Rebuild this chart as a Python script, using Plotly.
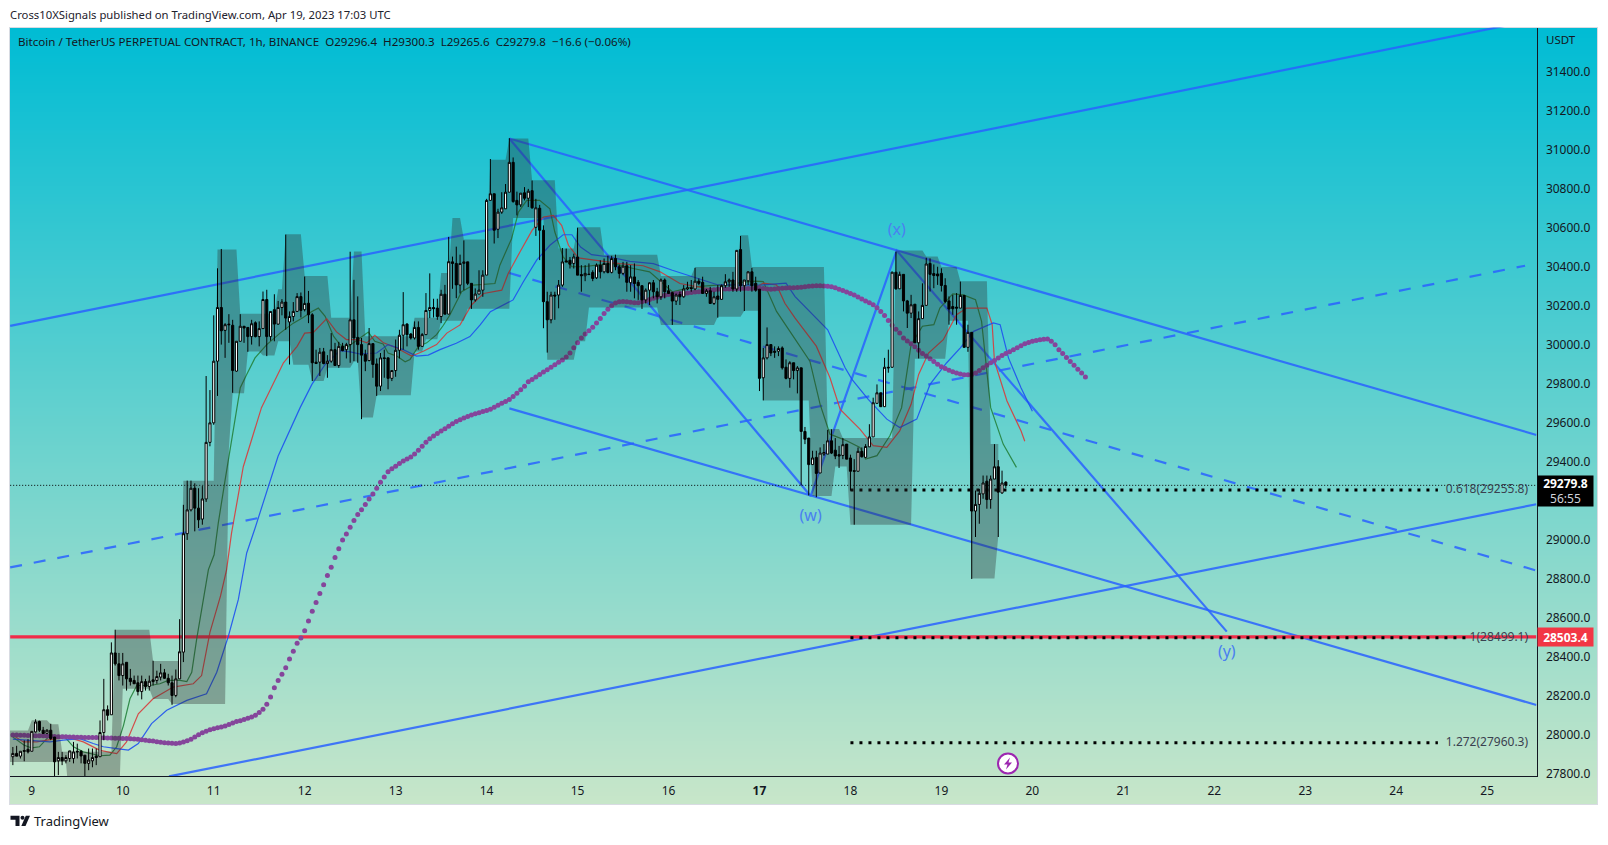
import pandas as pd
import plotly.graph_objects as go

W, H = 1608, 845
BASE = pd.Timestamp("2023-04-09")

candle_hours = list(range(-5, 258))
opens = [27889,27906,27892,27921,27927,27917,28016,28070,28025,28009,28025,27990,27868,27885,27868,27880,27880,27917,27917,27897,27855,27868,27892,27889,28013,28130,28104,28421,28365,28305,28373,28291,28280,28268,28223,28274,28249,28283,28280,28297,28319,28291,28268,28203,28288,28425,29032,29154,29265,29163,29107,
29210,29500,29600,29916,30191,30074,30106,30100,29865,30018,30095,30089,30042,30113,30042,30083,30232,30042,30180,30106,30191,30219,30117,30145,30171,30247,30180,30213,30154,29911,29911,29964,29904,29916,29975,29894,29992,29975,30001,30128,30038,30001,29950,29919,30006,29902,29788,29933,29933,29828,29868,29972,30049,30106,30055,30035,30089,29992,30052,30176,30191,30188,30145,30259,30157,
30425,30417,30306,30417,30425,30315,30230,30260,30280,30357,30740,30774,30592,30680,30697,30782,30935,30740,30717,30779,30751,30790,30602,30700,30587,30221,30128,30255,30255,30306,30430,30433,30417,30450,30360,30354,30362,30371,30343,30408,30374,30417,30371,30442,30400,30366,30405,30318,30348,30320,30303,30230,30280,30318,30272,30246,30332,30277,30267,30224,30258,30246,30286,30292,30286,30326,30320,30263,30277,30212,30250,30233,30303,30323,30332,30286,30488,30303,30328,30374,30315,
30285,29831,29933,30001,29967,29967,29984,29885,29828,29908,29868,29882,29556,29522,29386,29423,29343,29440,29440,29508,29460,29437,29433,29491,29420,29355,29352,29454,29423,29477,29528,29700,29754,29683,29885,29885,30372,30287,30361,30225,30162,30208,30010,30134,30202,30417,30365,30363,30366,30304,30225,30196,30193,30188,30253,29987,30064,29148,29182,29236,29301,29207,29312,29375,29241,29296.4]
highs = [27939,27945,27917,27973,27979,28019,28081,28074,28042,28030,28058,27990,27914,27914,27897,27919,27965,27956,27923,27897,27931,27931,27931,28075,28288,28152,28475,28540,28421,28421,28373,28339,28305,28305,28305,28288,28305,28381,28330,28365,28339,28314,28305,28336,28594,29180,29304,29304,29290,29265,29276,
29840,29768,30151,30392,30491,30111,30157,30128,30018,30157,30095,30089,30128,30120,30120,30273,30282,30171,30259,30225,30234,30565,30171,30219,30265,30268,30350,30276,30162,29975,29984,29984,29947,30060,30010,30015,30010,30010,30477,30333,30248,30035,29975,30086,30006,29930,29958,29975,29933,29868,30027,30077,30270,30111,30060,30120,30120,30060,30265,30366,30236,30236,30282,30307,30553,
30452,30503,30462,30535,30425,30315,30289,30382,30382,30748,30952,30774,30697,30782,30824,31059,30960,30785,30777,30808,30799,30842,30748,30717,30612,30272,30272,30272,30332,30496,30493,30450,30467,30600,30408,30408,30417,30382,30417,30433,30442,30456,30456,30462,30411,30425,30425,30408,30417,30332,30303,30289,30320,30332,30292,30340,30340,30306,30272,30263,30272,30306,30323,30332,30394,30340,30349,30286,30297,30272,30306,30309,30362,30340,30374,30484,30558,30332,30377,30394,30349,
30285,29984,30089,30001,29992,29992,29992,29925,29916,29908,29891,29882,29579,29522,29457,29457,29474,29491,29564,29567,29522,29482,29522,29491,29437,29414,29474,29474,29491,29593,29729,29797,29754,29933,29975,30375,30477,30375,30361,30230,30256,30208,30171,30315,30446,30443,30412,30400,30392,30341,30248,30256,30265,30324,30256,30103,30064,29253,29261,29330,29330,29330,29491,29409,29355,29300.3]
lows = [27846,27892,27880,27866,27906,27917,28013,28016,28008,28006,27974,27770,27795,27846,27855,27863,27855,27880,27855,27780,27820,27835,27846,27889,27974,28075,28104,28356,28280,28254,28228,28254,28263,28203,28183,28228,28228,28254,28263,28280,28288,28254,28155,28194,28288,28374,29000,29146,29044,29061,29078,
29195,29480,29590,29738,30001,29933,30010,29754,29862,30018,30010,29964,30001,30038,29992,30083,29942,30021,30018,30103,30151,30077,29899,30120,30168,30140,30171,30111,29814,29904,29840,29900,29831,29908,29894,29882,29967,29930,29908,29916,29908,29619,29865,29916,29831,29738,29763,29831,29772,29814,29836,29930,29975,29992,30027,30027,29975,29992,30052,30137,30140,30128,30111,30157,30157,
30287,30239,30263,30280,30306,30184,30221,30260,30246,30357,30740,30519,30547,30671,30697,30782,30728,30663,30706,30740,30706,30697,30558,30434,30085,29960,30110,30128,30187,30297,30425,30391,30391,30357,30272,30326,30360,30326,30337,30340,30366,30366,30366,30382,30340,30357,30272,30272,30238,30230,30184,30212,30204,30238,30212,30230,30238,30263,30102,30204,30204,30241,30280,30272,30280,30306,30263,30246,30212,30204,30139,30230,30292,30297,30272,30272,30272,30173,30306,30272,30272,
29763,29715,29925,29942,29933,29942,29873,29823,29780,29823,29751,29279,29491,29228,29386,29219,29343,29431,29440,29440,29414,29369,29414,29414,29253,29078,29352,29423,29423,29477,29528,29700,29681,29681,29857,29882,30282,30287,30171,30086,30137,30010,29930,30134,30202,30273,30290,30307,30273,30213,30103,30154,30103,30188,29987,29964,28800,29015,29083,29211,29160,29160,29312,29015,29236,29265.6]
closes = [27906,27892,27917,27917,27914,28019,28067,28025,28008,28025,27982,27863,27885,27868,27885,27919,27914,27914,27893,27855,27872,27885,27885,28013,28130,28101,28421,28365,28305,28365,28288,28274,28263,28223,28274,28249,28276,28274,28300,28319,28291,28268,28203,28288,28427,29032,29154,29265,29163,29103,29210,
29500,29600,29916,30191,30072,30103,30103,29868,30018,30095,30086,30042,30108,30042,30083,30232,30042,30171,30106,30191,30219,30137,30145,30171,30247,30176,30212,30154,29908,29904,29962,29904,29916,29975,29894,29992,29970,30001,30128,30035,30001,29947,29916,30006,29899,29788,29933,29930,29828,29868,29972,30049,30103,30052,30035,30089,29992,30052,30176,30191,30185,30145,30259,30157,30426,
30417,30307,30417,30425,30315,30230,30260,30280,30357,30740,30774,30587,30680,30702,30782,30935,30734,30717,30777,30751,30787,30702,30702,30587,30221,30128,30255,30250,30306,30425,30425,30413,30450,30357,30354,30366,30360,30340,30408,30374,30417,30371,30442,30400,30366,30403,30320,30348,30314,30303,30230,30280,30318,30272,30246,30332,30272,30263,30224,30255,30246,30286,30292,30289,30326,30315,30263,30277,30212,30246,30233,30303,30323,30332,30286,30484,30303,30332,30374,30303,30280,
29828,29933,30001,29958,29962,29981,29882,29828,29908,29868,29882,29556,29516,29386,29420,29341,29445,29448,29508,29445,29430,29430,29488,29414,29352,29352,29454,29426,29479,29528,29703,29754,29683,29885,29882,30372,30287,30361,30225,30162,30205,30010,30134,30202,30414,30361,30355,30353,30304,30222,30183,30185,30188,30253,29987,30064,29148,29182,29239,29292,29207,29312,29375,29245,29292,29279.8]

green_hours = [-5,-2,0,2,4,5,7,8.3,11,13.6,18,20.6,22.4,24.2,25.9,27.7,31.2,33.8,36,39.1,40.9,42.2,43.5,45.3,46.6,48.1,49.2,51,54,55,56.7,58.9,62,65.5,69,71.6,73.9,75.6,77.4,79.6,81.3,83,86.6,88.8,90.5,92.7,94,96.3,98.5,99.8,102,104.2,106.8,108.6,110.3,113.4,116.5,122.2,123.5,126.6,128.4,130.6,134,136.7,138,140.2,142.5,145.5,149,153.4,158.7,163,166,169,174.5,180.7,185,186.9,191,193,196.5,200,205.3,208,210.6,215,218.5,220,223,226.4,229.5,232,235,238,239.6,243,245.8,249,250.6,253,256.3,259.8]
green_vals = [27990,27948,27934,27940,27982,28002,27990,27999,27940,27914,27894,27897,27940,28050,28186,28254,28254,28263,28280,28280,28274,28322,28492,28713,28848,28924,29086,29307,29678,29780,29848,29933,30001,30060,30111,30140,30171,30188,30146,30044,30001,29985,30035,30065,30018,30004,29958,29942,29913,29925,29992,30010,30052,30100,30153,30272,30306,30314,30408,30544,30680,30740,30740,30697,30578,30450,30400,30400,30408,30416,30391,30374,30323,30272,30297,30306,30306,30320,30326,30324,30171,30069,29916,29695,29542,29508,29474,29415,29432,29534,29678,30001,30095,30103,30188,30261,30256,30231,30120,29678,29491,29372]
red_hours = [-5,-2.2,1.3,5.7,9.2,13.6,18,22.4,25,28.1,32,37.3,42.6,44.8,47,49.8,51.4,52.7,54.9,55.8,60.6,63.7,66.4,70,72,74.3,77.8,80.4,83,86,88.4,90.5,92.8,96.3,100.2,103.3,106.8,109.5,113,116,119.2,124,125.7,128.8,132,135,137.6,139.8,141.6,144.2,149,155.2,161.3,165.8,171,177.2,183.3,191.3,193,196.5,198.7,201.4,207,210.6,213.3,218.5,222,225.6,229,232,234,236.6,240.5,244,246.7,252,253.4,254,257.3,261,262]
red_vals = [27999,27965,27965,27979,27991,27965,27922,27905,27965,28109,28186,28246,28263,28305,28526,28713,28848,29035,29290,29375,29678,29797,29908,29992,30060,30064,30134,30066,30027,30027,30010,30049,30010,29984,29942,29967,30001,30060,30102,30204,30263,30280,30365,30476,30586,30655,30663,30612,30510,30445,30433,30416,30405,30374,30314,30292,30280,30297,30316,30307,30213,30137,29993,29831,29669,29568,29483,29474,29559,29695,29848,29958,30026,30154,30188,30188,30103,29916,29712,29559,29506]
blue_hours = [-5,-.5,4.8,8.3,12.7,16.2,18.9,22.4,25.5,28.1,31.6,35.6,40.9,46.1,48.8,51.9,54.5,56.7,58.9,65,70.8,73.9,77.4,81.3,84,86.6,91,94,98,101.5,104.6,107.7,112,115.6,118.3,121,127,129.7,133.2,136.7,140.2,142.5,144.8,147.7,152.5,157.8,164,169,175.4,180.7,186.9,193,199,201.4,210,214.6,216.4,220.7,225.6,229,233.5,237,241.4,245,248.5,253.7,255.5,257.7,261,264]
blue_vals = [27979,27974,27965,27974,27982,27957,27940,27931,27923,27957,28059,28127,28178,28212,28322,28509,28695,28933,29060,29430,29678,29797,29899,29970,29964,29953,29958,30001,29975,29942,29947,29975,30008,30042,30102,30170,30230,30323,30434,30510,30564,30564,30501,30462,30450,30428,30416,30382,30340,30309,30306,30307,30316,30247,30077,29882,29823,29720,29619,29576,29619,29797,29908,29984,30069,30112,30103,29933,29780,29660]

purple_hours = list(range(-5, 279))
purple_vals = [28000,28000,27999,27999,27998,27998,27997,27997,27996,27995,27994,27993,27992,27991,27991,27990,
27990,27989,27989,27988,27988,27987,27987,27986,27986,27985,27985,27984,27984,27983,27982,27981,27980,27978,27976,27974,
27971,27969,27966,27963,27961,27959,27958,27957,27959,27964,27971,27979,27990,28002,28012,28020,28027,28033,28038,28042,
28047,28054,28062,28069,28074,28080,28086,28093,28102,28116,28132,28158,28195,28243,28280,28312,28345,28390,28430,28470,
28497,28535,28585,28635,28680,28725,28770,28818,28860,28910,28955,29000,29030,29065,29100,29130,29155,29182,29210,29235,
29265,29295,29322,29350,29365,29378,29392,29405,29415,29425,29440,29460,29480,29500,29518,29533,29546,29558,29570,29582,
29595,29607,29616,29625,29632,29640,29647,29652,29658,29663,29670,29680,29690,29700,29710,29720,29735,29752,29770,29788,
29810,29822,29835,29848,29860,29872,29885,29898,29910,29922,29938,29958,29985,30010,30035,30055,30072,30090,30112,30135,
30160,30182,30200,30214,30220,30222,30220,30218,30216,30216,30220,30226,30232,30238,30244,30250,30254,30258,30260,30263,
30264,30262,30265,30268,30270,30272,30275,30278,30280,30282,30285,30285,30286,30286,30287,30287,30288,30288,30289,30289,
30290,30290,30288,30286,30285,30286,30288,30290,30291,30292,30292,30293,30295,30297,30300,30301,30302,30302,30301,30300,
30298,30292,30285,30278,30270,30263,30255,30245,30235,30225,30215,30205,30190,30170,30150,30125,30100,30080,30060,30035,
30020,30005,29990,29972,29955,29942,29928,29915,29900,29888,29878,29870,29862,29856,29850,29847,29846,29848,29855,29868,
29882,29895,29908,29920,29932,29945,29955,29965,29975,29985,29995,30005,30012,30018,30022,30026,30029,30030,30018,30000,
29975,29955,29935,29915,29895,29875,29855,29835]

band_top_hours = [-6,0,5,8,22,32,40,49,55,65,67,72,79,85,88,101,108,111,114,121,126,132,139,144,151,166,175,187,190,210,214,228,236,240,245,253,256]
band_top_vals = [28023,28076,28055,27914,28540,28379,29303,30488,30159,30285,30567,30352,30138,30478,30044,30138,30368,30650,30540,30948,31057,30843,30493,30603,30462,30352,30399,30561,30399,29569,29522,30483,30452,30399,30326,29491]
band_low_hours = [-6,10,24,32,37,52,53,57,61,65,69,74,78,85,87,91,101,104,108,115,127,136,144,147,166,181,188,193,206,212,216,233,242,248,255,256]
band_low_vals = [27862,27642,28238,28185,28159,29470,29752,29966,29945,30018,29898,29815,29882,29914,29627,29742,29966,30029,30123,30185,30650,29924,30018,30191,30102,30144,30175,29715,29225,29376,29078,29929,30123,28802,29020]

rise_upper_h, rise_upper_p = [-5.7, 397], [30097, 31667]
rise_lower_h, rise_lower_p = [36.2, 397], [27788, 29183]
rise_mid_h, rise_mid_p = [-5.7, 394], [28859, 30405]
fall_upper_h, fall_upper_p = [126, 397], [31057, 29538]
fall_lower_h, fall_lower_p = [126, 397], [29674, 28154]
fall_mid_h, fall_mid_p = [126, 397], [30368, 28843]
wave_h, wave_p = [126, 205.5, 228.2, 315.3], [31057, 29225, 30483, 28530]
wave_label_h, wave_label_p, wave_labels = [205.5, 228.2, 315.3], [29120, 30582, 28420], ["(w)", "(x)", "(y)"]

fib_start_h = 216
fib_end_h = [371, 378.6, 371]
fib_levels = [29255.8, 28499.1, 27960.3]
fib_text = ["0.618(29255.8)", "1(28499.1)", "1.272(27960.3)"]
fib_label_h = 394.8
red_level = 28503.4
last_close = 29279.8

price_ticks = [27800,28000,28200,28400,28600,28800,29000,29400,29600,29800,30000,30200,30400,30600,30800,31000,31200,31400]
day_labels = ["9","10","11","12","13","14","15","16","<b>17</b>","18","19","20","21","22","23","24","25"]
bg_levels = [[0, 0], [1, 1]]

FONT = "Noto Sans"
X_LEFT, X_RIGHT = 10, 1536.5
Y_TOP, Y_BOTTOM = 27.7, 782
PANEL_R, PANEL_B = 1597, 810
BLUE = "rgba(41,98,255,0.85)"

def t(hours):
    return [BASE + pd.Timedelta(hours=float(h)) for h in hours]

def px(x):
    return x / W

def py(y):
    return 1 - y / H

def steps(hours, vals):
    xs, ys = [], []
    for i, v in enumerate(vals):
        xs += [hours[i], hours[i + 1] - 1]
        ys += [v, v]
    return xs, ys

fig = go.Figure()

# gradient panel
fig.add_trace(go.Heatmap(z=bg_levels, x=[0, 1], y=[0, 1], zsmooth="best", showscale=False,
                         colorscale=[[0, "#C8E6C9"], [1, "#00BCD4"]], hoverinfo="skip",
                         xaxis="x", yaxis="y"))

def line(h, p, dash="solid", color=BLUE, width=2.2):
    fig.add_trace(go.Scatter(x=t(h), y=p, mode="lines", line=dict(color=color, width=width, dash=dash),
                             hoverinfo="skip", showlegend=False, xaxis="x2", yaxis="y2"))

line(rise_upper_h, rise_upper_p)
line(rise_lower_h, rise_lower_p)
line(rise_mid_h, rise_mid_p, "12px,12px")
line(fall_upper_h, fall_upper_p)
line(fall_lower_h, fall_lower_p)
line(fall_mid_h, fall_mid_p, "12px,12px")
line(wave_h, wave_p)
line([-5.7, 397], [red_level, red_level], color="rgba(242,40,70,0.98)", width=3.4)
line([-5.7, 397], [last_close, last_close], "1px,2px", "#000000", 1)
for lvl, end in zip(fib_levels, fib_end_h):
    line([fib_start_h, end], [lvl, lvl], "3px,6px", "#000000", 3)

line(green_hours, green_vals, color="rgba(35,130,60,0.9)", width=1.2)
line(red_hours, red_vals, color="rgba(215,60,60,0.9)", width=1.2)
line(blue_hours, blue_vals, color="rgba(30,80,240,0.9)", width=1.2)

fig.add_trace(go.Scatter(x=t(purple_hours), y=purple_vals, mode="markers",
                         marker=dict(color="#85459B", size=5, line=dict(width=0)),
                         hoverinfo="skip", showlegend=False, xaxis="x2", yaxis="y2"))

tx, ty = steps(band_top_hours, band_top_vals)
bx, by = steps(band_low_hours, band_low_vals)
fig.add_trace(go.Scatter(x=t(tx + bx[::-1]), y=ty + by[::-1], mode="lines", fill="toself",
                         fillcolor="rgba(40,40,40,0.34)", line=dict(width=0),
                         hoverinfo="skip", showlegend=False, xaxis="x2", yaxis="y2"))

fig.add_trace(go.Candlestick(x=t(candle_hours), open=opens, high=highs, low=lows, close=closes,
                             increasing=dict(line=dict(color="#000000", width=1), fillcolor="#FFFFFF"),
                             decreasing=dict(line=dict(color="#000000", width=1), fillcolor="#000000"),
                             whiskerwidth=0, hoverinfo="skip", showlegend=False, xaxis="x3", yaxis="y3"))

fig.add_trace(go.Scatter(x=t(wave_label_h), y=wave_label_p, mode="text", text=wave_labels,
                         textfont=dict(family=FONT, size=16, color="#4A80F0"), textposition="middle center",
                         hoverinfo="skip", showlegend=False, xaxis="x3", yaxis="y3"))
fig.add_trace(go.Scatter(x=t([fib_label_h] * 3), y=fib_levels, mode="text", text=fib_text,
                         textfont=dict(family=FONT, size=12, color="#3A4150"), textposition="middle left",
                         hoverinfo="skip", showlegend=False, xaxis="x3", yaxis="y3"))

x_range = t([(X_LEFT - 31.8) / 3.79, (X_RIGHT - 31.8) / 3.79])
y_range = [27788, 31626]
day_ticks = t([24 * i for i in range(len(day_labels))])

annotations = [
    dict(text="Cross10XSignals published on TradingView.com, Apr 19, 2023 17:03 UTC", x=px(8), y=py(14.5),
         xanchor="left", yanchor="middle", font=dict(size=11.3, color="#1E222D", family=FONT)),
    dict(text="Bitcoin / TetherUS PERPETUAL CONTRACT, 1h, BINANCE  O29296.4  H29300.3  L29265.6  C29279.8  −16.6 (−0.06%)",
         x=px(15.5), y=py(42), xanchor="left", yanchor="middle", font=dict(size=11.6, color="#131722", family=FONT)),
    dict(text="USDT", x=px(1544), y=py(40), xanchor="left", yanchor="middle", font=dict(size=11.5, color="#131722", family=FONT)),
    dict(text="<b>29279.8</b><br><span style='color:#D0D3DA'>56:55</span>", x=px(1536.7), y=py(495), xanchor="left", yanchor="middle",
         width=55, height=30, bgcolor="#000000", align="center", borderpad=0, font=dict(size=12, color="#FFFFFF", family=FONT)),
    dict(text="<b>28503.4</b>", x=px(1537), y=py(641.5), xanchor="left", yanchor="middle",
         width=55, height=18, bgcolor="#F23645", align="center", borderpad=0, font=dict(size=12, color="#FFFFFF", family=FONT)),
    dict(text="TradingView", x=px(32), y=py(827), xanchor="left", yanchor="middle",
         font=dict(size=13, color="#131722", family=FONT)),
]
for a in annotations:
    a.update(xref="paper", yref="paper", showarrow=False)

def path(points):
    return "M " + " L ".join(f"{px(x)} {py(y)}" for x, y in points) + " Z"

shapes = [
    dict(type="path", path=path([(10.5, 821.5), (19.5, 821.5), (19.5, 832), (15.5, 832), (15.5, 825.5), (10.5, 825.5)]), fillcolor="#131722", line_width=0),
    dict(type="circle", x0=px(20.5), x1=px(24.5), y0=py(821.5), y1=py(825.5), fillcolor="#131722", line_width=0),
    dict(type="path", path=path([(25.8, 821.5), (30, 821.5), (25.5, 832), (21.3, 832)]), fillcolor="#131722", line_width=0),
    dict(type="circle", x0=px(998), x1=px(1018), y0=py(759), y1=py(779), fillcolor="#FFFFFF", line=dict(color="#9C27B0", width=2)),
    dict(type="path", path=path([(1010, 763), (1004, 770), (1007.5, 770), (1006, 775), (1012, 768), (1008.5, 768)]), fillcolor="#9C27B0", line_width=0),
]
for s in shapes:
    s.update(xref="paper", yref="paper")

fig.update_layout(
    width=W, height=H, margin=dict(l=0, r=0, t=0, b=0), paper_bgcolor="#FFFFFF", plot_bgcolor="rgba(0,0,0,0)",
    showlegend=False, boxgap=0.2, font=dict(family=FONT, size=12, color="#131722"),
    annotations=annotations, shapes=shapes, hovermode=False,
    xaxis=dict(domain=[px(9.5), px(PANEL_R)], range=[0, 1], visible=True, showticklabels=False, ticks="", showgrid=False, zeroline=False,
               showline=True, mirror=True, linecolor="#D8DBE2", linewidth=1, anchor="y"),
    yaxis=dict(domain=[py(PANEL_B), py(Y_TOP)], range=[0, 1], visible=True, showticklabels=False, ticks="", showgrid=False, zeroline=False,
               showline=True, mirror=True, linecolor="#D8DBE2", linewidth=1, anchor="x"),
    xaxis2=dict(domain=[px(X_LEFT), px(X_RIGHT)], range=x_range, type="date", anchor="y2", tickmode="array",
                tickvals=day_ticks, ticktext=day_labels, showgrid=False, zeroline=False, showline=True, linecolor="#131722", linewidth=1,
                ticks="outside", ticklen=3, tickcolor="rgba(0,0,0,0)", tickfont=dict(size=12, family=FONT, color="#131722"),
                rangeslider=dict(visible=False), fixedrange=True),
    yaxis2=dict(domain=[py(Y_BOTTOM), py(Y_TOP)], range=y_range, anchor="x2", side="right", tickmode="array", tickvals=price_ticks,
                ticktext=[f"{v:.1f}" for v in price_ticks], showgrid=False, zeroline=False, showline=True, linecolor="#131722", linewidth=1,
                ticks="outside", ticklen=6, tickcolor="rgba(0,0,0,0)", tickfont=dict(size=12, family=FONT, color="#131722"), fixedrange=True),
    xaxis3=dict(overlaying="x2", range=x_range, type="date", visible=False, rangeslider=dict(visible=False), fixedrange=True, anchor="y3"),
    yaxis3=dict(overlaying="y2", range=y_range, visible=False, side="right", fixedrange=True, anchor="x3"),
)

fig.write_html("out.html", config={"displayModeBar": False},
               post_script="document.body.style.margin='0';document.body.style.overflow='hidden';")
